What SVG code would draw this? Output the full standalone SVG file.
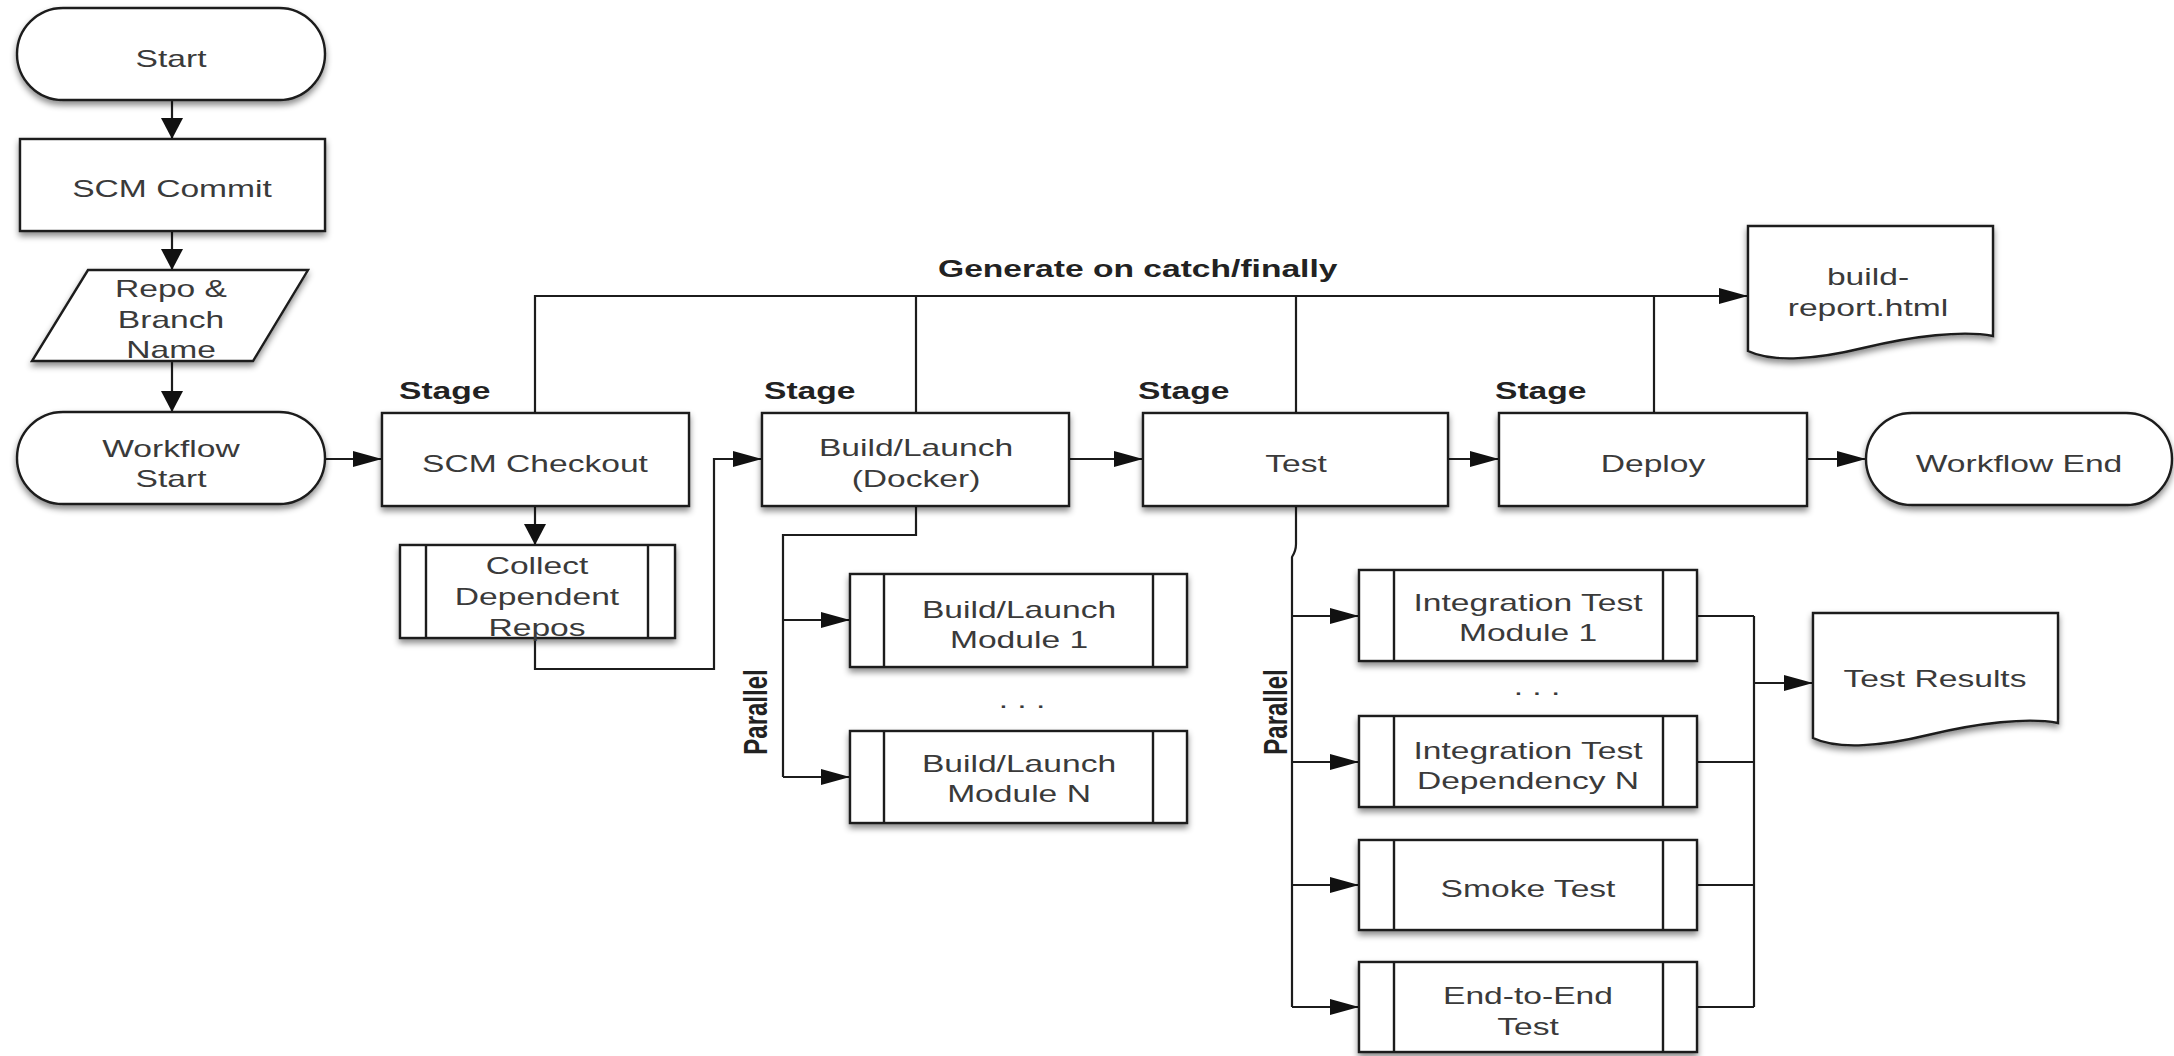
<svg xmlns="http://www.w3.org/2000/svg" xmlns:xlink="http://www.w3.org/1999/xlink" width="2174" height="1056" viewBox="0 0 2174 1056">
  <style>
    .shape { fill: #ffffff; stroke: #1c1c1c; stroke-width: 2.4; filter: url(#shadow); }
    .inner { fill: none; stroke: #1c1c1c; stroke-width: 2.4; }
    .lbl { font-family: "Liberation Sans", Arial, Helvetica, sans-serif; font-size: 24px; fill: #3a3a3a; text-anchor: middle; }
    .bold { font-weight: bold; fill: #222222; }
    .start { text-anchor: start; }
    #connectors path { fill: none; stroke: #1c1c1c; stroke-width: 2.2; }
    .h { marker-end: url(#ah); }
    .v { marker-end: url(#av); }
  </style>
  <defs>
    <filter id="shadow" x="-10%" y="-10%" width="120%" height="140%">
      <feDropShadow dx="0" dy="4" stdDeviation="3" flood-color="#000000" flood-opacity="0.45"/>
    </filter>
    <!-- horizontal arrowheads are longer, vertical ones wider -->
    <marker id="ah" markerUnits="userSpaceOnUse" viewBox="0 0 29 16" markerWidth="29" markerHeight="16" refX="29" refY="8" orient="auto">
      <path d="M0,0 L29,8 L0,16 Z" fill="#111111"/>
    </marker>
    <marker id="av" markerUnits="userSpaceOnUse" viewBox="0 0 21 22" markerWidth="21" markerHeight="22" refX="21" refY="11" orient="auto">
      <path d="M0,0 L21,11 L0,22 Z" fill="#111111"/>
    </marker>
    <path id="doc" d="M0,0 H245 V110 C215,104 165,110 115,122 C70,133 25,137 0,125 Z"/>
  </defs>

  <rect width="2174" height="1056" fill="#ffffff"/>

  <!-- connectors -->
  <g id="connectors">
    <path class="v" d="M172,100 V139"/>
    <path class="v" d="M172,231 V270"/>
    <path class="v" d="M172,361 V412"/>
    <path class="h" d="M325,459 H382"/>
    <path class="v" d="M535,506 V545"/>
    <path class="h" d="M535,638 V669 H714 V459 H762"/>
    <path class="h" d="M1069,459 H1143"/>
    <path class="h" d="M1448,459 H1499"/>
    <path class="h" d="M1807,459 H1866"/>
    <!-- report generation bus -->
    <path class="h" d="M535,413 V296 H1748"/>
    <path d="M916,413 V296"/>
    <path d="M1296,413 V296"/>
    <path d="M1654,413 V296"/>
    <!-- build fan-out -->
    <path d="M916,506 V535 H783 V777"/>
    <path class="h" d="M783,620 H850"/>
    <path class="h" d="M783,777 H850"/>
    <!-- test fan-out -->
    <path d="M1296,506 V544 Q1296,551 1292,557 V1007"/>
    <path class="h" d="M1292,616 H1359"/>
    <path class="h" d="M1292,762 H1359"/>
    <path class="h" d="M1292,885 H1359"/>
    <path class="h" d="M1292,1007 H1359"/>
    <!-- test fan-in -->
    <path d="M1697,616 H1754 M1697,762 H1754 M1697,885 H1754 M1697,1007 H1754 M1754,616 V1007"/>
    <path class="h" d="M1754,683 H1813"/>
  </g>

  <!-- edge labels -->
  <g id="labels">
    <text class="lbl bold start" transform="translate(938 0) scale(1.4 1)" y="277">Generate on catch/finally</text>
    <text class="lbl bold start" transform="translate(399 0) scale(1.4 1)" y="399">Stage</text>
    <text class="lbl bold start" transform="translate(764 0) scale(1.4 1)" y="399">Stage</text>
    <text class="lbl bold start" transform="translate(1138 0) scale(1.4 1)" y="399">Stage</text>
    <text class="lbl bold start" transform="translate(1495 0) scale(1.4 1)" y="399">Stage</text>
    <text class="lbl bold" transform="translate(755 712) rotate(-90) scale(1 1.4)" y="8.6">Parallel</text>
    <text class="lbl bold" transform="translate(1275 712) rotate(-90) scale(1 1.4)" y="8.6">Parallel</text>
    <text class="lbl" transform="translate(1022 0) scale(1.4 1)" y="708">. . .</text>
    <text class="lbl" transform="translate(1537 0) scale(1.4 1)" y="695">. . .</text>
  </g>

  <!-- left column -->
  <g id="start">
    <rect class="shape" x="17" y="8" width="308" height="92" rx="46" ry="46"/>
    <text class="lbl" transform="translate(171 0) scale(1.4 1)" y="67">Start</text>
  </g>
  <g id="scm-commit">
    <rect class="shape" x="20" y="139" width="305" height="92"/>
    <text class="lbl" transform="translate(172 0) scale(1.4 1)" y="197">SCM Commit</text>
  </g>
  <g id="repo-branch">
    <polygon class="shape" points="88,270 308,270 253,361 32,361"/>
    <text class="lbl" transform="translate(171 0) scale(1.4 1)"><tspan x="0" y="297">Repo &amp;</tspan><tspan x="0" y="328">Branch</tspan><tspan x="0" y="358">Name</tspan></text>
  </g>
  <g id="workflow-start">
    <rect class="shape" x="17" y="412" width="308" height="92" rx="46" ry="46"/>
    <text class="lbl" transform="translate(171 0) scale(1.4 1)"><tspan x="0" y="457">Workflow</tspan><tspan x="0" y="487">Start</tspan></text>
  </g>

  <!-- stages -->
  <g id="scm-checkout">
    <rect class="shape" x="382" y="413" width="307" height="93"/>
    <text class="lbl" transform="translate(535 0) scale(1.4 1)" y="472">SCM Checkout</text>
  </g>
  <g id="collect-repos">
    <rect class="shape" x="400" y="545" width="275" height="93"/>
    <path class="inner" d="M426,545 V638 M648,545 V638"/>
    <text class="lbl" transform="translate(537 0) scale(1.4 1)"><tspan x="0" y="574">Collect</tspan><tspan x="0" y="605">Dependent</tspan><tspan x="0" y="636">Repos</tspan></text>
  </g>
  <g id="build-launch">
    <rect class="shape" x="762" y="413" width="307" height="93"/>
    <text class="lbl" transform="translate(916 0) scale(1.4 1)"><tspan x="0" y="456">Build/Launch</tspan><tspan x="0" y="487">(Docker)</tspan></text>
  </g>
  <g id="build-module-1">
    <rect class="shape" x="850" y="574" width="337" height="93"/>
    <path class="inner" d="M884,574 V667 M1153,574 V667"/>
    <text class="lbl" transform="translate(1019 0) scale(1.4 1)"><tspan x="0" y="618">Build/Launch</tspan><tspan x="0" y="648">Module 1</tspan></text>
  </g>
  <g id="build-module-n">
    <rect class="shape" x="850" y="731" width="337" height="92"/>
    <path class="inner" d="M884,731 V823 M1153,731 V823"/>
    <text class="lbl" transform="translate(1019 0) scale(1.4 1)"><tspan x="0" y="772">Build/Launch</tspan><tspan x="0" y="802">Module N</tspan></text>
  </g>
  <g id="test">
    <rect class="shape" x="1143" y="413" width="305" height="93"/>
    <text class="lbl" transform="translate(1296 0) scale(1.4 1)" y="472">Test</text>
  </g>
  <g id="it-module-1">
    <rect class="shape" x="1359" y="570" width="338" height="91"/>
    <path class="inner" d="M1394,570 V661 M1663,570 V661"/>
    <text class="lbl" transform="translate(1528 0) scale(1.4 1)"><tspan x="0" y="611">Integration Test</tspan><tspan x="0" y="641">Module 1</tspan></text>
  </g>
  <g id="it-dependency-n">
    <rect class="shape" x="1359" y="716" width="338" height="91"/>
    <path class="inner" d="M1394,716 V807 M1663,716 V807"/>
    <text class="lbl" transform="translate(1528 0) scale(1.4 1)"><tspan x="0" y="759">Integration Test</tspan><tspan x="0" y="789">Dependency N</tspan></text>
  </g>
  <g id="smoke-test">
    <rect class="shape" x="1359" y="840" width="338" height="90"/>
    <path class="inner" d="M1394,840 V930 M1663,840 V930"/>
    <text class="lbl" transform="translate(1528 0) scale(1.4 1)" y="897">Smoke Test</text>
  </g>
  <g id="e2e-test">
    <rect class="shape" x="1359" y="962" width="338" height="90"/>
    <path class="inner" d="M1394,962 V1052 M1663,962 V1052"/>
    <text class="lbl" transform="translate(1528 0) scale(1.4 1)"><tspan x="0" y="1004">End-to-End</tspan><tspan x="0" y="1035">Test</tspan></text>
  </g>
  <g id="deploy">
    <rect class="shape" x="1499" y="413" width="308" height="93"/>
    <text class="lbl" transform="translate(1653 0) scale(1.4 1)" y="472">Deploy</text>
  </g>
  <g id="workflow-end">
    <rect class="shape" x="1866" y="413" width="306" height="92" rx="46" ry="46"/>
    <text class="lbl" transform="translate(2019 0) scale(1.4 1)" y="472">Workflow End</text>
  </g>

  <!-- outputs -->
  <g id="build-report">
    <use xlink:href="#doc" href="#doc" class="shape" x="1748" y="226"/>
    <text class="lbl" transform="translate(1868 0) scale(1.4 1)"><tspan x="0" y="285">build-</tspan><tspan x="0" y="316">report.html</tspan></text>
  </g>
  <g id="test-results">
    <use xlink:href="#doc" href="#doc" class="shape" x="1813" y="613"/>
    <text class="lbl" transform="translate(1935 0) scale(1.4 1)" y="687">Test Results</text>
  </g>
</svg>
